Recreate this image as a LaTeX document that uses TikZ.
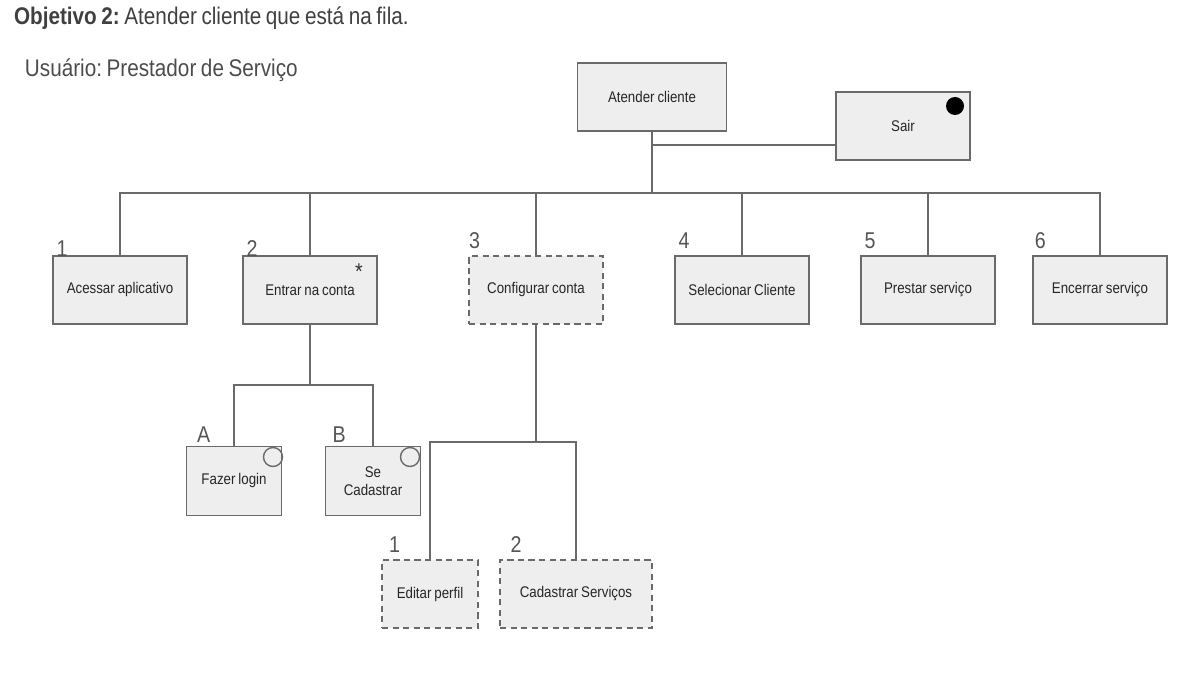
\documentclass[tikz,border=0pt]{standalone}
\usepackage{fontspec}
\setmainfont[FakeStretch=0.86,WordSpace=0.8]{Liberation Sans}
\usetikzlibrary{positioning}
\definecolor{boxfill}{HTML}{EEEEEE}
\definecolor{boxline}{HTML}{6A6A6A}
\definecolor{numgray}{HTML}{555555}
\frenchspacing
\begin{document}
\begin{tikzpicture}[x=0.02cm,y=-0.02cm,inner sep=0pt,outer sep=0pt,line width=1pt,draw=boxline,
taskbox/.style={draw=boxline,fill=boxfill,rectangle,inner sep=2pt,minimum width=2.68cm,minimum height=1.36cm,align=center,font=\fontsize{8.8}{10.5}\selectfont,text=black!85},
optbox/.style={taskbox,dashed,dash pattern=on 3.5pt off 2.5pt},
numlabel/.style={font=\fontsize{13}{13}\selectfont,text=numgray},
ring/.style={draw=boxline,circle,minimum size=0.38cm,line width=0.8pt}]
\useasboundingbox (0,0) rectangle (1200,675);
% titulos
\draw (14,18) node[anchor=west,text=black!75,font=\fontsize{13.7}{15}\selectfont] (objetivo) {\textbf{Objetivo 2:} Atender cliente que está na fila.};
\draw (25,70) node[anchor=west,text=black!70,font=\fontsize{13.7}{16}\selectfont] (usuario) {Usuário: Prestador de Serviço};
% nivel 0
\draw (652,97) node[taskbox,minimum width=2.98cm] (atender) {Atender cliente};
\draw (903,126) node[taskbox,minimum height=1.36cm] (sair) {Sair};
\fill[black] (955,106) circle (9);
% nivel 1
\draw (120,290) node[taskbox] (acessar) {Acessar aplicativo};
\draw (310,290) node[taskbox] (entrar) {Entrar na conta};
\draw (536,290) node[optbox] (config) {Configurar conta};
\draw (742,290) node[taskbox] (selecionar) {Selecionar Cliente};
\draw (928,290) node[taskbox] (prestar) {Prestar serviço};
\draw (1100,290) node[taskbox] (encerrar) {Encerrar serviço};
% nivel 2
\draw (234,481) node[taskbox,minimum width=1.9cm,minimum height=1.38cm] (login) {Fazer login};
\draw (373,481) node[taskbox,minimum width=1.9cm,minimum height=1.38cm] (cadastro) {Se\\Cadastrar};
\draw (430,594) node[optbox,minimum width=1.92cm] (perfil) {Editar perfil};
\draw (576,594) node[optbox,minimum width=3.04cm] (servicos) {Cadastrar Serviços};
% marcas
\draw (273,457) node[ring] (ringA) {};
\draw (410,457) node[ring] (ringB) {};
\draw (359,272) node[font=\fontsize{13}{13}\selectfont,text=black!80] (star) {*};
% numeros
\node[numlabel,above right=0pt and 2pt of acessar.north west] (n1) {1};
\node[numlabel,above right=0pt and 2pt of entrar.north west] (n2) {2};
\node[numlabel,above right=4pt and 0pt of config.north west] (n3) {3};
\node[numlabel,above right=4pt and 2pt of selecionar.north west] (n4) {4};
\node[numlabel,above right=4pt and 2pt of prestar.north west] (n5) {5};
\node[numlabel,above right=4pt and 1pt of encerrar.north west] (n6) {6};
\node[numlabel,above right=2pt and 6pt of login.north west] (nA) {A};
\node[numlabel,above right=2pt and 4pt of cadastro.north west] (nB) {B};
\node[numlabel,above right=4pt and 4pt of perfil.north west] (nE1) {1};
\node[numlabel,above right=4pt and 6pt of servicos.north west] (nE2) {2};
% ligacoes
\coordinate (bus) at (652,193);
\coordinate (sairjoin) at (652,145);
\coordinate (entrarjoin) at (310,385);
\coordinate (configjoin) at (536,442);
\draw (atender.south) -- (bus);
\draw (sairjoin) -- (sairjoin -| sair.west);
\draw (acessar.north) |- (bus) -| (encerrar.north);
\draw (entrar.north) -- (entrar.north |- bus);
\draw (config.north) -- (config.north |- bus);
\draw (selecionar.north) -- (selecionar.north |- bus);
\draw (prestar.north) -- (prestar.north |- bus);
\draw (entrar.south) -- (entrarjoin);
\draw (login.north) |- (entrarjoin) -| (cadastro.north);
\draw (config.south) -- (configjoin);
\draw (perfil.north) |- (configjoin) -| (servicos.north);
\end{tikzpicture}
\end{document}
